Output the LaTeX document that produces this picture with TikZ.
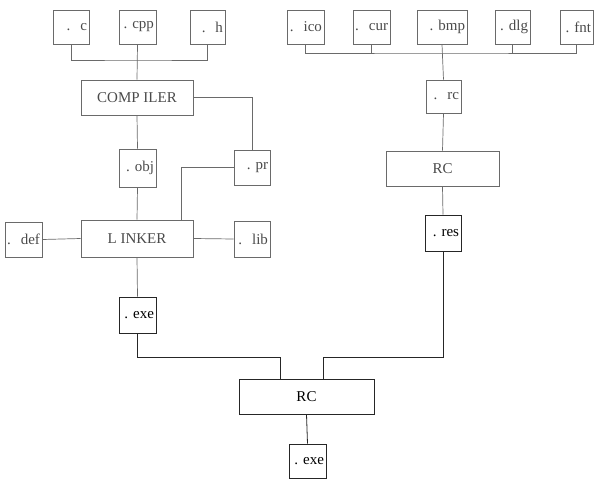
\documentclass[tikz,border=0pt]{standalone}
\usepackage{fontspec}
\setmainfont{Liberation Serif}
\usetikzlibrary{calc}
\definecolor{lncol}{HTML}{6A6A6A}
\definecolor{txcol}{HTML}{4A4A4A}
\tikzset{
  filebox/.style={draw=lncol, line width=0.7pt, minimum height=35pt, inner xsep=2pt, inner ysep=0pt, align=right, text=txcol, font=\fontsize{15}{17}\selectfont},
  darkbox/.style={filebox, draw=black!85, text=black},
  procbox/.style={draw=lncol, line width=0.7pt, minimum height=35pt, inner sep=0pt, text=txcol, font=\fontsize{15}{17}\selectfont},
  conn/.style={draw=lncol, line width=0.7pt},
  darkconn/.style={draw=black!85, line width=0.8pt}
}
\begin{document}
\begin{tikzpicture}[x=1pt,y=-1pt]
\useasboundingbox (0,0) rectangle (594,479);
% top-left sources
\node[filebox, text width=32pt, minimum height=34pt] (c)   at (71,27)    {.\ \ c};
\node[filebox, text width=33pt, minimum height=34pt] (cpp) at (137.5,27) {.\ cpp};
\node[filebox, text width=31pt, minimum height=34pt] (h)   at (207.5,27) {.\ \ h};
\node[procbox, minimum width=112pt] (comp) at (137,97.5) {COMP ILER};
\node[filebox, text width=33pt, minimum height=38pt] (obj) at (137.5,168) {.\ obj};
\node[filebox, text width=32pt] (pr)  at (252,167.5) {.\ pr};
\node[procbox, minimum width=112pt, minimum height=37pt] (link) at (137,238.5) {L INKER};
\node[filebox, text width=33pt] (def) at (23.5,239.5) {.\ \ def};
\node[filebox, text width=32pt, minimum height=36pt] (lib) at (252,239) {.\ \ lib};
\node[darkbox, text width=33pt, minimum height=36pt] (exea) at (137.5,315) {.\ exe};
% top-right resources
\node[filebox, text width=33pt, minimum height=34pt] (ico) at (305.5,27) {.\ \ ico};
\node[filebox, text width=33pt, minimum height=34pt] (cur) at (371.5,27) {.\ \ cur};
\node[filebox, text width=46pt, minimum height=34pt] (bmp) at (442,27)   {.\ bmp};
\node[filebox, text width=31pt, minimum height=34pt] (dlg) at (512.5,27) {.\ dlg};
\node[filebox, text width=29pt, minimum height=34pt] (fnt) at (576.5,27) {\mbox{.\ fnt}};
\node[filebox, text width=31pt, minimum height=33pt] (rc)  at (443.5,96.5) {.\ \ rc};
\node[procbox, minimum width=113pt] (rca) at (442.5,168.5) {RC};
\node[darkbox, text width=32pt, minimum height=36pt] (res) at (443,233) {.\ res};
% bottom
\node[procbox, draw=black!85, text=black, minimum width=135pt] (rcb) at (306.5,396.5) {RC};
\node[darkbox, text width=33pt, minimum height=34pt] (exeb) at (307.5,461) {.\ exe};
% connectors left
\coordinate (lbus) at (137,60);
\draw[conn] (c.south) |- (lbus) -| (h.south);
\draw[conn] (cpp.south) -- (comp.north);
\draw[conn] (comp.east) -| (pr.north);
\draw[conn] (comp.south) -- (obj.north);
\draw[conn] (obj.south) -- (link.north);
\draw[conn] (pr.west) -| ([xshift=44pt]link.north);
\draw[conn] (link.west) -- (def.east);
\draw[conn] (link.east) -- (lib.west);
\draw[conn] (link.south) -- (exea.north);
% connectors right
\coordinate (rbus) at (442,53);
\draw[conn] (ico.south) |- (rbus) -| (fnt.south);
\draw[conn] (cur.south) -- (cur.south |- rbus);
\draw[conn] (dlg.south) -- (dlg.south |- rbus);
\draw[conn] (bmp.south) -- (rc.north);
\draw[conn] (rc.south) -- (rca.north);
\draw[conn] (rca.south) -- (res.north);
% to final RC
\draw[darkconn] (exea.south) |- ($(rcb.north)+(-26.5,-21)$) -- ([xshift=-26.5pt]rcb.north);
\draw[darkconn] (res.south) |- ($(rcb.north)+(16.5,-21)$) -- ([xshift=16.5pt]rcb.north);
\draw[darkconn] (rcb.south) -- (exeb.north);
\end{tikzpicture}
\end{document}
